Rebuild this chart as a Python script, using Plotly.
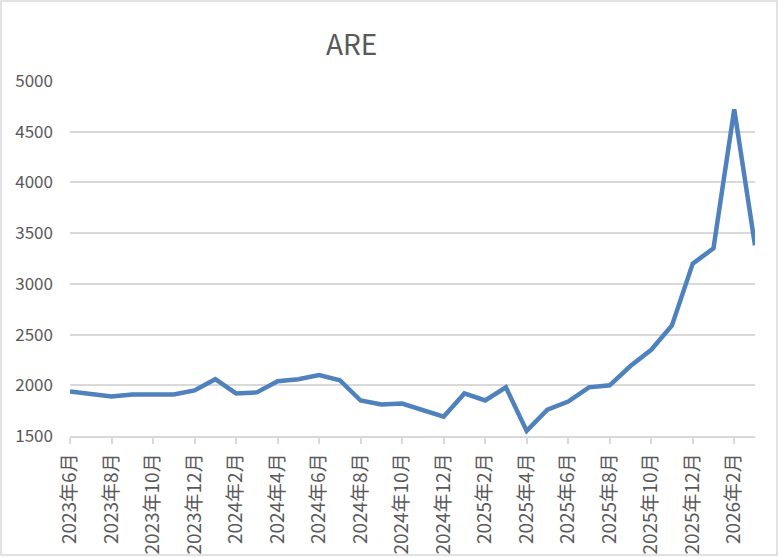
import plotly.graph_objects as go

months = ["2023年6月", "2023年7月", "2023年8月", "2023年9月", "2023年10月", "2023年11月",
          "2023年12月", "2024年1月", "2024年2月", "2024年3月", "2024年4月", "2024年5月",
          "2024年6月", "2024年7月", "2024年8月", "2024年9月", "2024年10月", "2024年11月",
          "2024年12月", "2025年1月", "2025年2月", "2025年3月", "2025年4月", "2025年5月",
          "2025年6月", "2025年7月", "2025年8月", "2025年9月", "2025年10月", "2025年11月",
          "2025年12月", "2026年1月", "2026年2月", "2026年3月"]
values = [1940, 1910, 1890, 1910, 1910, 1910,
          1950, 2060, 1920, 1930, 2040, 2060,
          2100, 2050, 1850, 1810, 1820, 1760,
          1690, 1920, 1850, 1980, 1550, 1760,
          1840, 1980, 2000, 2190, 2350, 2590,
          3200, 3350, 4720, 3380]
tick_labels = months[::2]
y_ticks = [1500, 2000, 2500, 3000, 3500, 4000, 4500, 5000]
title_text = "ARE"

FONT = "Noto Sans CJK SC"
GREY = "#595959"

fig = go.Figure()
fig.add_trace(go.Scatter(
    x=months, y=values, mode="lines",
    line=dict(color="#4f81bd", width=4.5),
    hoverinfo="x+y", showlegend=False,
))

W, H = 779, 557
L, R, T, B = 70, 24, 81, 121
pw, ph = W - L - R, H - T - B

fig.update_layout(
    width=W, height=H, autosize=False,
    margin=dict(l=L, r=R, t=T, b=B, pad=0),
    paper_bgcolor="white", plot_bgcolor="white",
    font=dict(family=FONT, color=GREY),
    xaxis=dict(
        type="category", range=[0, len(months) - 1],
        tickmode="array", tickvals=tick_labels, ticktext=tick_labels,
        tickangle=-90, tickfont=dict(size=19, color=GREY, family=FONT),
        ticks="outside", ticklen=6, tickcolor="#d9d9d9", tickwidth=1.5,
        showline=True, linecolor="#d9d9d9", linewidth=1.5,
        showgrid=False, zeroline=False, ticklabelstandoff=2, automargin=False,
    ),
    yaxis=dict(
        range=[1500, 5000], tickmode="array", tickvals=y_ticks,
        tickfont=dict(size=17, color=GREY, family=FONT),
        showgrid=True, gridcolor="#d9d9d9", gridwidth=1.5,
        zeroline=False, showline=False, ticks="", ticklabelstandoff=16, automargin=False,
    ),
    annotations=[dict(
        text=title_text, xref="paper", yref="paper",
        x=(351 - L) / pw, y=(H - B - 43) / ph, xanchor="center", yanchor="middle",
        showarrow=False, font=dict(size=28, color=GREY, family=FONT),
    )],
    shapes=[dict(
        type="rect", xref="paper", yref="paper",
        x0=(1 - L) / pw, x1=(777 - L) / pw,
        y0=(H - B - 555) / ph, y1=(H - B - 1) / ph,
        line=dict(color="#d9d9d9", width=1.5), layer="below",
    )],
)

fig.write_html(
    "out.html",
    config={"displayModeBar": False, "responsive": False},
    post_script=(
        "document.documentElement.style.margin='0px';"
        "document.documentElement.style.overflow='hidden';"
        "document.body.style.margin='0px';"
        "document.body.style.padding='0px';"
        "document.body.style.overflow='hidden';"
    ),
)
